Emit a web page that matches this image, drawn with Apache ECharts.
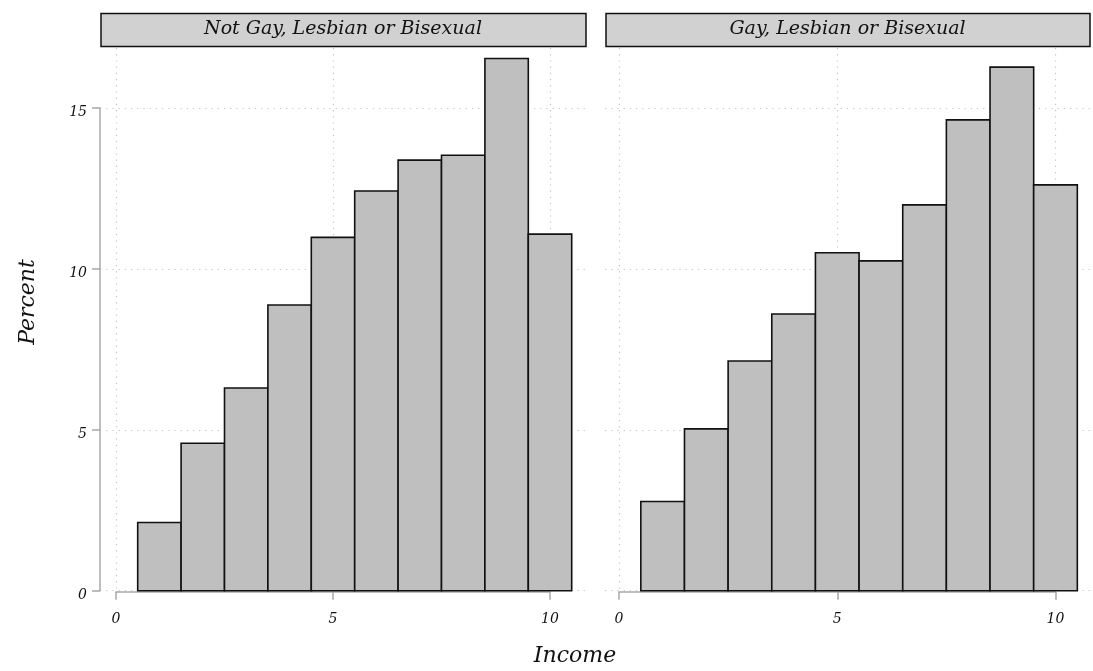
<!DOCTYPE html>
<html>
<head>
<meta charset="utf-8">
<script src="https://cdn.jsdelivr.net/npm/echarts@6/dist/echarts.min.js"></script>
<style>
html,body{margin:0;padding:0;background:#fff;}
#chart{width:1093px;height:671px;}
</style>
</head>
<body>
<div id="chart"></div>
<script>
// ---- data ----
var panels = ["Not Gay, Lesbian or Bisexual", "Gay, Lesbian or Bisexual"];
var incomeBins = [1, 2, 3, 4, 5, 6, 7, 8, 9, 10];
var pctNotGLB = [2.12, 4.58, 6.30, 8.88, 10.98, 12.42, 13.38, 13.53, 16.54, 11.08];
var pctGLB = [2.77, 5.03, 7.14, 8.60, 10.50, 10.25, 11.99, 14.63, 16.27, 12.61];
var yTicks = [0, 5, 10, 15];
var xTicks = [0, 5, 10];

var FONT = "DejaVu Serif";
var chart = echarts.init(document.getElementById('chart'), null, {renderer: 'canvas'});

var gridColor = '#c4c4c4';
var axisColor = '#a8a8a8';

function toData(vals) { return incomeBins.map(function (x, i) { return [x, vals[i]]; }); }

function renderBar(params, api) {
  var x = api.value(0), v = api.value(1);
  var p0 = api.coord([x - 0.5, v]);
  var p1 = api.coord([x + 0.5, 0]);
  return {
    type: 'rect',
    shape: {x: p0[0], y: p0[1], width: p1[0] - p0[0], height: p1[1] - p0[1]},
    style: {fill: '#bfbfbf', stroke: '#111', lineWidth: 1.6}
  };
}

var yZeroPx = 590.7;       // pixel of y=0
var yFifteenPx = 108;      // pixel of y=15
var pxPerY = (yZeroPx - yFifteenPx) / 15;
var plotTop = 48;
var yMaxData = (yZeroPx - plotTop) / pxPerY;

// panel geometry
var P = [
  {left: 100, right: 586, x0: 116, x10: 550, showY: true},
  {left: 605, right: 1090, x0: 619, x10: 1055.5, showY: false}
];

var grids = [], xAxes = [], yAxes = [], series = [], graphics = [];
P.forEach(function (p, k) {
  var pxPerX = (p.x10 - p.x0) / 10;
  var gBase = grids.length;
  // 0: data grid
  grids.push({left: p.left, top: plotTop, width: p.right - p.left, height: yZeroPx - plotTop, containLabel: false});
  xAxes.push({gridIndex: gBase, type: 'value', min: (p.left - p.x0) / pxPerX, max: (p.right - p.x0) / pxPerX, show: false});
  yAxes.push({gridIndex: gBase, type: 'value', min: 0, max: yMaxData, show: false});
  // 1: y-axis / horizontal gridline grid
  grids.push({left: p.left, top: yFifteenPx, width: p.right - p.left, height: yZeroPx - yFifteenPx});
  xAxes.push({gridIndex: gBase + 1, type: 'value', min: 0, max: 1, show: false});
  yAxes.push({gridIndex: gBase + 1, type: 'value', min: 0, max: 15, interval: 5,
    axisLine: {show: p.showY, lineStyle: {color: axisColor, width: 1.5}},
    axisTick: {show: p.showY, length: 8, lineStyle: {color: axisColor, width: 1.5}},
    axisLabel: {show: p.showY, margin: 13, fontFamily: FONT, fontStyle: 'italic', fontSize: 14, color: '#111',
      verticalAlign: 'top', lineHeight: 9,
      formatter: function (v) { return yTicks.indexOf(v) >= 0 ? String(v) : ''; }},
    splitLine: {show: true, lineStyle: {color: gridColor, type: [1.2, 5], width: 1.2}}
  });
  // 2: x-axis / vertical gridline grid
  grids.push({left: p.x0, top: plotTop, width: p.x10 - p.x0, height: yZeroPx + 1 - plotTop});
  xAxes.push({gridIndex: gBase + 2, type: 'value', min: 0, max: 10, interval: 5, position: 'bottom',
    axisLine: {show: true, onZero: false, lineStyle: {color: axisColor, width: 1.5}},
    axisTick: {show: true, length: 8, lineStyle: {color: axisColor, width: 1.5}},
    axisLabel: {margin: 21, fontFamily: FONT, fontStyle: 'italic', fontSize: 14, color: '#111',
      formatter: function (v) { return xTicks.indexOf(v) >= 0 ? String(v) : ''; }},
    splitLine: {show: true, lineStyle: {color: gridColor, type: [1.2, 5], width: 1.2}}
  });
  yAxes.push({gridIndex: gBase + 2, type: 'value', min: 0, max: 1, show: false});

  series.push({
    type: 'custom', name: panels[k], xAxisIndex: gBase, yAxisIndex: gBase,
    data: toData(k === 0 ? pctNotGLB : pctGLB), renderItem: renderBar, z: 5, silent: true
  });

  // strip header
  graphics.push({type: 'rect', shape: {x: p.left + 1, y: 13.5, width: p.right - p.left - 1, height: 33},
    style: {fill: '#d1d1d1', stroke: '#111', lineWidth: 1.5}, z: 10});
  graphics.push({type: 'text', x: (p.left + p.right) / 2, y: 29,
    style: {text: panels[k], font: 'italic 19px "' + FONT + '"', fill: '#111', textAlign: 'center', textVerticalAlign: 'middle'}, z: 11});
});

graphics.push({type: 'text', x: 28, y: 302, rotation: Math.PI / 2,
  style: {text: 'Percent', font: 'italic 22px "' + FONT + '"', fill: '#111', textAlign: 'center', textVerticalAlign: 'middle'}});
graphics.push({type: 'text', x: 575, y: 656,
  style: {text: 'Income', font: 'italic 22px "' + FONT + '"', fill: '#111', textAlign: 'center', textVerticalAlign: 'middle'}});

chart.setOption({
  backgroundColor: '#ffffff',
  animation: false,
  grid: grids, xAxis: xAxes, yAxis: yAxes, series: series, graphic: graphics
});
</script>
</body>
</html>
